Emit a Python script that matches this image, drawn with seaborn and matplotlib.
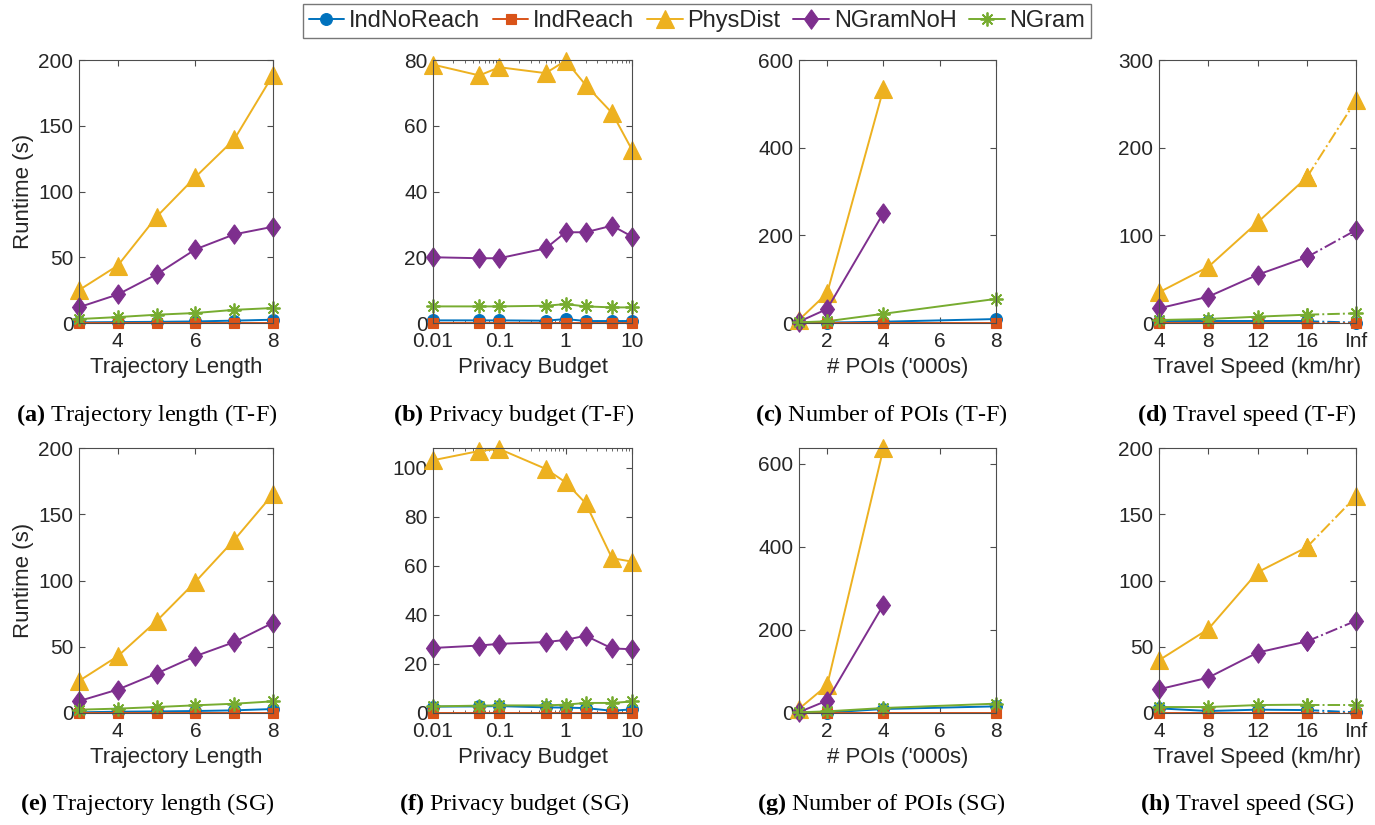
import numpy as np
import matplotlib
matplotlib.use('Agg')
import matplotlib.pyplot as plt
import seaborn as sns

# x values of the four experiment families
traj_len = [3, 4, 5, 6, 7, 8]
budgets = [0.01, 0.05, 0.1, 0.5, 1, 2, 5, 10]
pois = [1, 2, 4, 8]
speeds = ['4', '8', '12', '16', 'Inf']

methods = ['IndNoReach', 'IndReach', 'PhysDist', 'NGramNoH', 'NGram']

# runtime (s), one row per method (order as in `methods`)
tf_len = [[0.5, 0.7, 0.9, 1.2, 1.8, 2.5],
          [0.1, 0.1, 0.1, 0.1, 0.1, 0.1],
          [25, 43.7, 80.8, 111, 139.6, 188.6],
          [12, 21.7, 37, 56, 67.4, 73.2],
          [3, 4.5, 6.3, 7.6, 10, 11.4]]
tf_budget = [[0.8, 0.8, 0.8, 0.7, 1.2, 0.6, 0.6, 0.6],
             [0.1, 0.1, 0.1, 0.1, 0.1, 0.1, 0.1, 0.1],
             [78.6, 75.3, 77.8, 76, 79.8, 72.4, 63.9, 52.7],
             [20, 19.7, 19.7, 22.7, 27.6, 27.6, 29.6, 26.3],
             [5.05, 5.05, 5.05, 5.25, 5.75, 5.05, 4.75, 4.75]]
tf_pois = [[0.5, 1, 3, 9],
           [0.3, 0.3, 0.3, 0.3],
           [7, 68, 534, np.nan],
           [3, 32, 251, np.nan],
           [1.5, 4, 21, 55]]
tf_speed = [[2, 2, 2, 2, 0.5],
            [0.3, 0.3, 0.3, 0.3, 0.3],
            [35, 64, 114.7, 166, 254],
            [16.7, 30, 55, 75, 106],
            [3.4, 4.6, 7.2, 9.5, 11]]
sg_len = [[0.5, 1, 1.2, 1.5, 2, 3],
          [0.1, 0.1, 0.1, 0.1, 0.1, 0.1],
          [24.2, 42.9, 69.4, 99, 130.6, 165.2],
          [9, 17.7, 29.8, 42.9, 53.5, 68.1],
          [2.5, 3.3, 4.5, 5.8, 7, 8.8]]
sg_budget = [[2.6, 2.7, 2.8, 2.3, 2.2, 2.0, 0.9, 1.5],
             [0.1, 0.1, 0.1, 0.1, 0.1, 0.1, 0.1, 0.1],
             [103, 106.8, 107.6, 99.5, 94, 85.5, 63.1, 61.7],
             [26.5, 27.5, 28.2, 28.9, 29.8, 31.5, 26.3, 26],
             [2.7, 3, 3.1, 3.1, 3.4, 4.1, 4.1, 4.7]]
sg_pois = [[0.5, 1, 9.6, 16],
           [0.3, 0.3, 0.3, 0.3],
           [10, 66.6, 637, np.nan],
           [2, 30, 260.7, np.nan],
           [1.6, 4, 12, 22.5]]
sg_speed = [[3.5, 1.5, 2.5, 2.2, 0.5],
            [0.3, 0.3, 0.3, 0.3, 0.3],
            [39.8, 63.3, 106.2, 125.1, 163.4],
            [17.9, 26.7, 45.6, 54, 69.6],
            [4.5, 4.5, 6, 6.3, 6.3]]

colors = ['#0072BD', '#D95319', '#EDB120', '#7E2F8E', '#77AC30']
diamond = [(0, 1), (0.72, 0), (0, -1), (-0.72, 0), (0, 1)]
markers = ['o', 's', '^', diamond, (8, 2, 0)]
msizes = [8.5, 7.5, 12.5, 14, 10]

sns.set_style("ticks")
plt.rcParams['font.family'] = ['Liberation Sans', 'DejaVu Sans']
plt.rcParams.update({
    'xtick.direction': 'in', 'ytick.direction': 'in',
    'xtick.top': True, 'ytick.right': True,
    'xtick.minor.top': True,
    'axes.edgecolor': '#4d4d4d', 'axes.linewidth': 0.8,
    'xtick.color': '#4d4d4d', 'ytick.color': '#4d4d4d',
    'xtick.labelcolor': '#262626', 'ytick.labelcolor': '#262626',
    'axes.labelcolor': '#262626',
    'xtick.labelsize': 15, 'ytick.labelsize': 15,
    'xtick.major.size': 4, 'ytick.major.size': 4,
    'mathtext.fontset': 'custom',
    'mathtext.rm': 'Liberation Serif',
    'mathtext.bf': 'Liberation Serif:bold',
})

W, H = 1375, 825
fig = plt.figure(figsize=(W / 100, H / 100), dpi=100)


def px_axes(l, t, r, b):
    return fig.add_axes([l / W, 1 - b / H, (r - l) / W, (b - t) / H])


cols = [(79, 273), (433, 632), (799, 996), (1159, 1356)]
rows_px = [(60, 323), (448, 713)]


def draw(ax, x, data, dashed_last=False):
    x = np.asarray(x, dtype=float)
    for i, name in enumerate(methods):
        y = np.asarray(data[i], dtype=float)
        kw = dict(color=colors[i], marker=markers[i], markersize=msizes[i],
                  markeredgecolor=colors[i], markerfacecolor=colors[i],
                  markeredgewidth=1.3 if i == 4 else 0.8, linewidth=1.4,
                  clip_on=False, ax=ax, legend=False, errorbar=None)
        if dashed_last:
            sns.lineplot(x=x[:-1], y=y[:-1], label=name, **kw)
            sns.lineplot(x=x[-2:], y=y[-2:], linestyle='-.', **kw)
        else:
            ok = ~np.isnan(y)
            sns.lineplot(x=x[ok], y=y[ok], label=name, **kw)


panels = [
    (0, 0, traj_len, tf_len, 'len', (0, 200), '(a)', 'Trajectory length (T-F)'),
    (0, 1, budgets, tf_budget, 'budget', (0, 80), '(b)', 'Privacy budget (T-F)'),
    (0, 2, pois, tf_pois, 'pois', (0, 600), '(c)', 'Number of POIs (T-F)'),
    (0, 3, speeds, tf_speed, 'speed', (0, 300), '(d)', 'Travel speed (T-F)'),
    (1, 0, traj_len, sg_len, 'len', (0, 200), '(e)', 'Trajectory length (SG)'),
    (1, 1, budgets, sg_budget, 'budget', (0, 108), '(f)', 'Privacy budget (SG)'),
    (1, 2, pois, sg_pois, 'pois', (0, 638), '(g)', 'Number of POIs (SG)'),
    (1, 3, speeds, sg_speed, 'speed', (0, 200), '(h)', 'Travel speed (SG)'),
]

cap_x = [147, 514, 881, 1247]
cap_y = [415, 804]
lab_fs = 16

axes = []
for r, c, xv, data, kind, ylim, tag, cap in panels:
    l, rr = cols[c]
    t, b = rows_px[r]
    ax = px_axes(l, t, rr, b)
    axes.append(ax)
    if kind == 'speed':
        pos = np.arange(len(xv))
        draw(ax, pos, data, dashed_last=True)
        ax.set_xticks(pos)
        ax.set_xticklabels(xv)
        ax.set_xlim(pos[0], pos[-1])
        ax.set_xlabel('Travel Speed (km/hr)', fontsize=lab_fs)
    elif kind == 'budget':
        draw(ax, xv, data)
        ax.set_xscale('log')
        ax.set_xlim(0.01, 10)
        ax.set_xticks([0.01, 0.1, 1, 10])
        ax.set_xticklabels(['0.01', '0.1', '1', '10'])
        ax.tick_params(axis='x', which='minor', direction='in', length=2,
                       top=True, bottom=True)
        ax.set_xlabel('Privacy Budget', fontsize=lab_fs)
    elif kind == 'pois':
        draw(ax, xv, data)
        ax.set_xlim(1, 8)
        ax.set_xticks([2, 4, 6, 8])
        ax.set_xlabel("# POIs ('000s)", fontsize=lab_fs)
    else:
        draw(ax, xv, data)
        ax.set_xlim(3, 8)
        ax.set_xticks([4, 6, 8])
        ax.set_xlabel('Trajectory Length', fontsize=lab_fs)
    ax.set_ylim(*ylim)
    step = {200: 50, 80: 20, 600: 200, 300: 100, 108: 20, 638: 200}[ylim[1]]
    ax.set_yticks(np.arange(0, ylim[1] + 0.1, step))
    ax.tick_params(axis='y', which='major', pad=4)
    ax.tick_params(axis='x', which='major', pad=6.5)
    ax.xaxis.labelpad = 4
    if c == 0:
        ax.set_ylabel('Runtime (s)', fontsize=lab_fs, labelpad=3)
    else:
        ax.set_ylabel('')
    for s in ax.spines.values():
        s.set_visible(True)
    fig.text(cap_x[c] / W, 1 - cap_y[r] / H, r'$\mathbf{' + tag + r'}$ ' + cap,
             ha='center', va='center', fontsize=17.5,
             family='Liberation Serif', color='black')

handles, labels = axes[0].get_legend_handles_labels()
leg = fig.legend(handles, labels, loc='upper center', ncol=5,
                 bbox_to_anchor=(697 / W, 1 - 4 / H), fontsize=17,
                 frameon=True, fancybox=False, edgecolor='#555555',
                 handlelength=1.5, handletextpad=0.2, columnspacing=0.55,
                 borderpad=0.25, borderaxespad=0)
leg.get_frame().set_linewidth(1.0)

fig.savefig('out.png', dpi=100)
